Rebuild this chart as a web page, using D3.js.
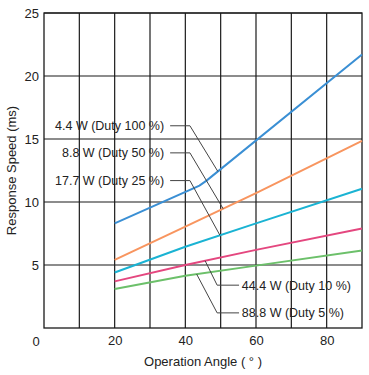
<!DOCTYPE html>
<html>
<head>
<meta charset="utf-8">
<script src="https://cdn.jsdelivr.net/npm/d3@7"></script>
<style>
  body { margin: 0; background: #fff; }
  text { font-family: "Liberation Sans", Arial, sans-serif; fill: #222; }
</style>
</head>
<body>
<div id="chart"></div>
<script>
// series data (angle in degrees, response in ms)
var angles = [20, 40, 60, 90];
var blueAngles = [20, 44, 46, 90];
var duty100 = [8.3, 11.3, 11.7, 21.7];
var duty50 = [5.4, 8.05, 10.7, 14.85];
var duty25 = [4.4, 6.45, 8.3, 11.05];
var duty10 = [3.7, 5.0, 6.2, 7.9];
var duty5 = [3.1, 4.15, 4.95, 6.15];

var xTicks = [20, 40, 60, 80];
var yTicks = [5, 10, 15, 20, 25];
var xGrid = [10, 20, 30, 40, 50, 60, 70, 80];

var seriesNames = ["4.4 W (Duty 100 %)", "8.8 W (Duty 50 %)", "17.7 W (Duty 25 %)", "44.4 W (Duty 10 %)", "88.8 W (Duty 5 %)"];
var seriesColors = ["#3a8fd4", "#f8955f", "#1ab3d3", "#e4477f", "#6cc06a"];

// callouts: label position, elbow, and the angle where the leader meets the line
var labelX = [34, 34, 34, 56, 56];
var labelY = [16.05, 13.9, 11.7, 3.4, 1.2];
var elbowA = [35.7, 35.7, 35.7, 55.2, 55.2];
var elbowB = [41.3, 41.3, 41.3, 49, 49];
var hitAngle = [49.2, 50.7, 49.8, 45.6, 43.2];

var svgWidth = 369;
var svgHeight = 375;
var margin = {top: 13, right: 7, bottom: 47, left: 44};
var width = svgWidth - margin.left - margin.right;
var height = svgHeight - margin.top - margin.bottom;

var svg = d3.select("#chart")
  .append("svg")
  .attr("width", svgWidth)
  .attr("height", svgHeight);

var chart = svg.append("g")
  .attr("transform", `translate(${margin.left}, ${margin.top})`);

var x = d3.scaleLinear().domain([0, 90]).range([0, width]);
var y = d3.scaleLinear().domain([0, 25]).range([height, 0]);

// grid
chart.selectAll(".vgrid")
  .data(xGrid)
  .enter()
  .append("line")
  .attr("x1", d => x(d)).attr("x2", d => x(d))
  .attr("y1", 0).attr("y2", height)
  .attr("stroke", "#1a1a1a")
  .attr("stroke-width", 1.2);

chart.selectAll(".hgrid")
  .data(yTicks)
  .enter()
  .append("line")
  .attr("x1", 0).attr("x2", width)
  .attr("y1", d => y(d)).attr("y2", d => y(d))
  .attr("stroke", "#1a1a1a")
  .attr("stroke-width", 1.2);

chart.append("rect")
  .attr("width", width)
  .attr("height", height)
  .attr("fill", "none")
  .attr("stroke", "#1a1a1a")
  .attr("stroke-width", 1.3);

// axes labels via d3 axes, domain and ticks hidden
var xAxis = chart.append("g")
  .attr("transform", `translate(0, ${height})`)
  .call(d3.axisBottom(x).tickValues(xTicks).tickSize(0).tickPadding(8));
var yAxis = chart.append("g")
  .call(d3.axisLeft(y).tickValues(yTicks).tickSize(0).tickPadding(5));
[xAxis, yAxis].forEach(function(a) {
  a.select(".domain").remove();
  a.selectAll("text").attr("font-size", 13).attr("fill", "#222")
    .attr("font-family", "Liberation Sans, Arial, sans-serif");
});
yAxis.selectAll("text").attr("dy", "0.36em");

// shared origin label
chart.append("text")
  .attr("x", x(0) - 8)
  .attr("y", height + 17.5)
  .attr("text-anchor", "middle")
  .attr("font-size", 13)
  .text("0");

// titles
svg.append("text")
  .attr("x", margin.left + width / 2)
  .attr("y", 366)
  .attr("text-anchor", "middle")
  .attr("font-size", 13)
  .text("Operation Angle ( ° )");

svg.append("text")
  .attr("transform", `translate(16, ${margin.top + height / 2}) rotate(-90)`)
  .attr("text-anchor", "middle")
  .attr("font-size", 13)
  .text("Response Speed (ms)");

// lines
var seriesX = [blueAngles, angles, angles, angles, angles];
var seriesY = [duty100, duty50, duty25, duty10, duty5];
var line = d3.line().x(d => x(d[0])).y(d => y(d[1]));

seriesY.forEach(function(vals, i) {
  var pts = vals.map((v, j) => [seriesX[i][j], v]);
  chart.append("path")
    .attr("d", line(pts))
    .attr("fill", "none")
    .attr("stroke", seriesColors[i])
    .attr("stroke-width", 2);
});

// value on a series at a given angle (for leader lines)
function valueAt(i, a) {
  var xs = seriesX[i], ys = seriesY[i];
  for (var j = 1; j < xs.length; j++) {
    if (a <= xs[j]) {
      var t = (a - xs[j - 1]) / (xs[j] - xs[j - 1]);
      return ys[j - 1] + t * (ys[j] - ys[j - 1]);
    }
  }
  return ys[ys.length - 1];
}

// callouts
seriesNames.forEach(function(name, i) {
  var pts = [
    [elbowA[i], labelY[i]],
    [elbowB[i], labelY[i]],
    [hitAngle[i], valueAt(i, hitAngle[i])]
  ];
  chart.append("path")
    .attr("d", line(pts))
    .attr("fill", "none")
    .attr("stroke", "#444")
    .attr("stroke-width", 1);

  chart.append("text")
    .attr("x", x(labelX[i]))
    .attr("y", y(labelY[i]))
    .attr("dy", "0.36em")
    .attr("text-anchor", i < 3 ? "end" : "start")
    .attr("font-size", 12.5)
    .attr("fill", "#222")
    .text(name);
});
</script>
</body>
</html>
